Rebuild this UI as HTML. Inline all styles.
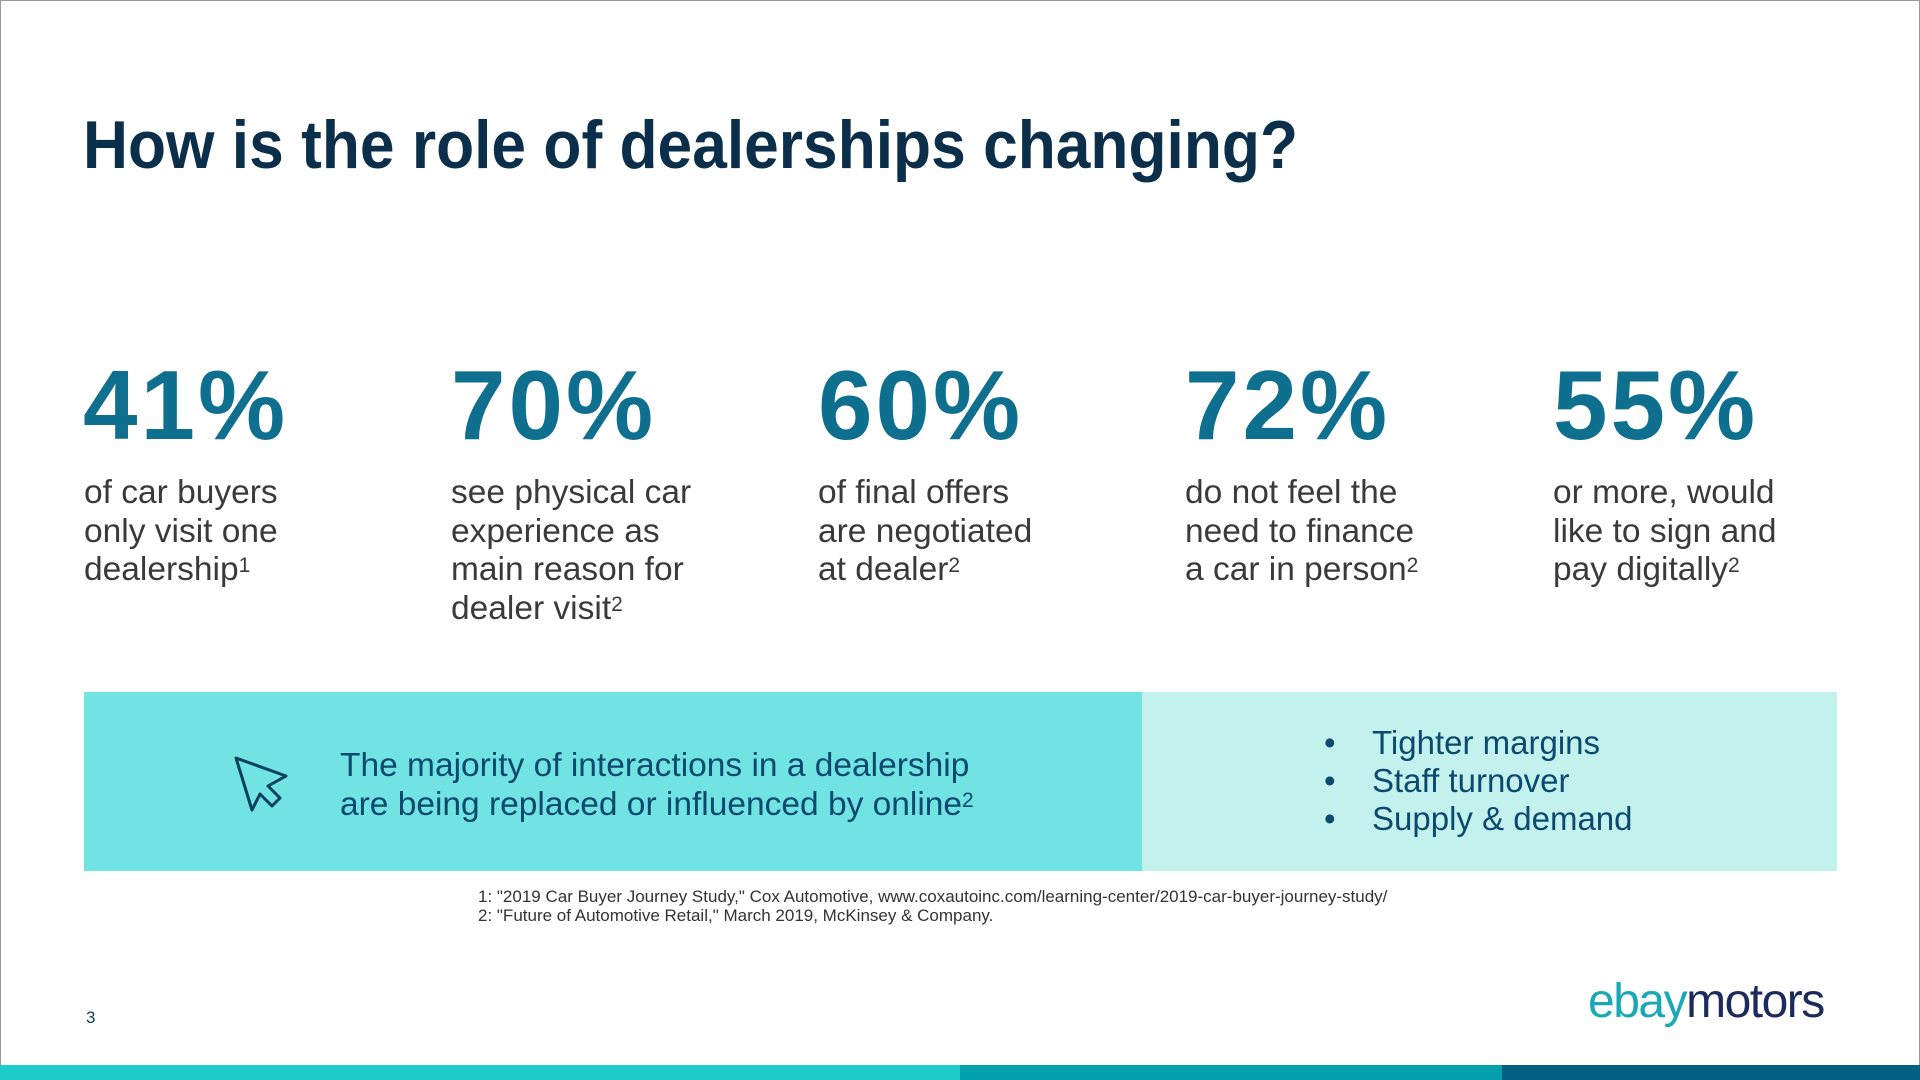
<!DOCTYPE html>
<html><head><meta charset="utf-8"><style>
body{margin:0;width:1920px;height:1080px;position:relative;background:#fff;font-family:"Liberation Sans",sans-serif;overflow:hidden}
.frame{position:absolute;left:0;top:0;width:1918px;height:1078px;border:1px solid #9a9a9a}
.num{position:absolute;top:355px;font-weight:bold;font-size:98px;color:#0f6f8f;letter-spacing:3px;line-height:100px}
.desc{position:absolute;top:474px;font-size:33.5px;line-height:38.5px;color:#3a3a3a}
sup{font-size:21px;vertical-align:top;position:relative;top:-4px}
.bar{position:absolute;top:1065px;height:15px}
</style></head><body>
<div class="frame"></div>
<svg style="position:absolute;left:0;top:0" width="1920" height="200">
<text x="83" y="168" font-family="Liberation Sans" font-weight="bold" font-size="68" fill="#0b2f4a" textLength="1215" lengthAdjust="spacingAndGlyphs">How is the role of dealerships changing?</text>
</svg>
<div class="num" style="left:83px">41%</div>
<div class="num" style="left:451px">70%</div>
<div class="num" style="left:818px">60%</div>
<div class="num" style="left:1185px">72%</div>
<div class="num" style="left:1553px">55%</div>
<div class="desc" style="left:84px">of car buyers<br>only visit one<br>dealership<sup>1</sup></div>
<div class="desc" style="left:451px">see physical car<br>experience as<br>main reason for<br>dealer visit<sup>2</sup></div>
<div class="desc" style="left:818px">of final offers<br>are negotiated<br>at dealer<sup>2</sup></div>
<div class="desc" style="left:1185px">do not feel the<br>need to finance<br>a car in person<sup>2</sup></div>
<div class="desc" style="left:1553px">or more, would<br>like to sign and<br>pay digitally<sup>2</sup></div>
<div style="position:absolute;left:84px;top:692px;width:1058px;height:179px;background:#72e3e3"></div>
<div style="position:absolute;left:1142px;top:692px;width:695px;height:179px;background:#c2f1ee"></div>
<svg style="position:absolute;left:230px;top:750px" width="60" height="65" viewBox="0 0 60 65">
<path d="M6 8 L56 26 L38 36 L50 48 L42 56 L30 44 L22 60 Z" fill="none" stroke="#0b3f5e" stroke-width="3" stroke-linejoin="round"/>
</svg>
<div style="position:absolute;left:340px;top:747px;font-size:33.5px;line-height:38.5px;color:#0b4a6e">The majority of interactions in a dealership<br>are being replaced or influenced by online<sup>2</sup></div>
<div style="position:absolute;left:1324px;top:724px;font-size:33px;line-height:38px;color:#0b4a6e">
<div><span style="display:inline-block;width:48px">•</span>Tighter margins</div>
<div><span style="display:inline-block;width:48px">•</span>Staff turnover</div>
<div><span style="display:inline-block;width:48px">•</span>Supply &amp; demand</div>
</div>
<div style="position:absolute;left:478px;top:887px;font-size:17px;line-height:19px;color:#333">1: "2019 Car Buyer Journey Study," Cox Automotive, www.coxautoinc.com/learning-center/2019-car-buyer-journey-study/<br>2: "Future of Automotive Retail," March 2019, McKinsey &amp; Company.</div>
<div style="position:absolute;left:86px;top:1008px;font-size:17px;color:#0b3f5e">3</div>
<div style="position:absolute;left:1588px;top:973px;font-size:48px;letter-spacing:-1.5px;line-height:58px"><span style="color:#1aa9b4">ebay</span><span style="color:#1d2a5c">motors</span></div>
<div class="bar" style="left:0;width:960px;background:#1ecbcb"></div>
<div class="bar" style="left:960px;width:542px;background:#02a0ad"></div>
<div class="bar" style="left:1502px;width:418px;background:#016082"></div>
</body></html>
